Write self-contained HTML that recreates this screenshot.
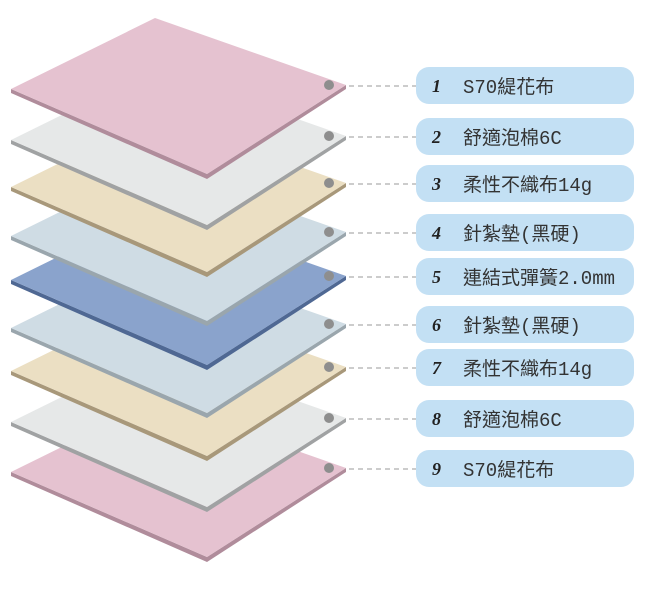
<!DOCTYPE html>
<html><head><meta charset="utf-8"><style>
body{margin:0;background:#fff;width:650px;height:592px;overflow:hidden}
.n{font-family:"Liberation Serif",serif;font-size:18px;font-weight:bold;font-style:italic;fill:#222}
.t{font-family:"Liberation Mono","Noto Sans CJK TC",monospace;font-size:19px;fill:#333}
</style></head><body>
<svg width="650" height="592" xmlns="http://www.w3.org/2000/svg">
<polygon points="11,472 207,557 346,468 346,472 207,562 11,476" fill="#b08c9b"/>
<polygon points="155,401 346,468 207,557 11,472" fill="#e5c2d0"/>
<circle cx="329" cy="468" r="5" fill="#8e8e8e"/>
<polygon points="11,422 207,507 346,418 346,422 207,512 11,426" fill="#a0a2a3"/>
<polygon points="155,351 346,418 207,507 11,422" fill="#e6e8e8"/>
<circle cx="329" cy="418" r="5" fill="#8e8e8e"/>
<polygon points="11,371 207,456 346,367 346,371 207,461 11,375" fill="#a8987a"/>
<polygon points="155,300 346,367 207,456 11,371" fill="#ebdfc3"/>
<circle cx="329" cy="367" r="5" fill="#8e8e8e"/>
<polygon points="11,328 207,413 346,324 346,328 207,418 11,332" fill="#9aa6ad"/>
<polygon points="155,257 346,324 207,413 11,328" fill="#cfdce4"/>
<circle cx="329" cy="324" r="5" fill="#8e8e8e"/>
<polygon points="11,280 207,365 346,276 346,280 207,370 11,284" fill="#4f6893"/>
<polygon points="155,209 346,276 207,365 11,280" fill="#8aa3cc"/>
<circle cx="329" cy="276" r="5" fill="#8e8e8e"/>
<polygon points="11,236 207,321 346,232 346,236 207,326 11,240" fill="#9aa6ad"/>
<polygon points="155,165 346,232 207,321 11,236" fill="#cfdce4"/>
<circle cx="329" cy="232" r="5" fill="#8e8e8e"/>
<polygon points="11,187 207,272 346,183 346,187 207,277 11,191" fill="#a8987a"/>
<polygon points="155,116 346,183 207,272 11,187" fill="#ebdfc3"/>
<circle cx="329" cy="183" r="5" fill="#8e8e8e"/>
<polygon points="11,140 207,225 346,136 346,140 207,230 11,144" fill="#a0a2a3"/>
<polygon points="155,69 346,136 207,225 11,140" fill="#e6e8e8"/>
<circle cx="329" cy="136" r="5" fill="#8e8e8e"/>
<polygon points="11,89 207,174 346,85 346,89 207,179 11,93" fill="#b08c9b"/>
<polygon points="155,18 346,85 207,174 11,89" fill="#e5c2d0"/>
<circle cx="329" cy="85" r="5" fill="#8e8e8e"/>

<g stroke="#999" stroke-dasharray="5,4">
<line x1="349" y1="86" x2="416" y2="86"/>
<line x1="349" y1="137" x2="416" y2="137"/>
<line x1="349" y1="184" x2="416" y2="184"/>
<line x1="349" y1="233" x2="416" y2="233"/>
<line x1="349" y1="277" x2="416" y2="277"/>
<line x1="349" y1="325" x2="416" y2="325"/>
<line x1="349" y1="368" x2="416" y2="368"/>
<line x1="349" y1="419" x2="416" y2="419"/>
<line x1="349" y1="469" x2="416" y2="469"/>
</g>
<g fill="#c3e0f4">
<rect x="416" y="67" width="218" height="37" rx="13"/>
<rect x="416" y="118" width="218" height="37" rx="13"/>
<rect x="416" y="165" width="218" height="37" rx="13"/>
<rect x="416" y="214" width="218" height="37" rx="13"/>
<rect x="416" y="258" width="218" height="37" rx="13"/>
<rect x="416" y="306" width="218" height="37" rx="13"/>
<rect x="416" y="349" width="218" height="37" rx="13"/>
<rect x="416" y="400" width="218" height="37" rx="13"/>
<rect x="416" y="450" width="218" height="37" rx="13"/>
</g>
<text class="n" x="432" y="92">1</text><text class="t" x="463" y="93">S70緹花布</text>
<text class="n" x="432" y="143">2</text><text class="t" x="463" y="144">舒適泡棉6C</text>
<text class="n" x="432" y="190">3</text><text class="t" x="463" y="191">柔性不織布14g</text>
<text class="n" x="432" y="239">4</text><text class="t" x="463" y="240">針紮墊(黑硬)</text>
<text class="n" x="432" y="283">5</text><text class="t" x="463" y="284">連結式彈簧2.0mm</text>
<text class="n" x="432" y="331">6</text><text class="t" x="463" y="332">針紮墊(黑硬)</text>
<text class="n" x="432" y="374">7</text><text class="t" x="463" y="375">柔性不織布14g</text>
<text class="n" x="432" y="425">8</text><text class="t" x="463" y="426">舒適泡棉6C</text>
<text class="n" x="432" y="475">9</text><text class="t" x="463" y="476">S70緹花布</text>
</svg>
</body></html>
